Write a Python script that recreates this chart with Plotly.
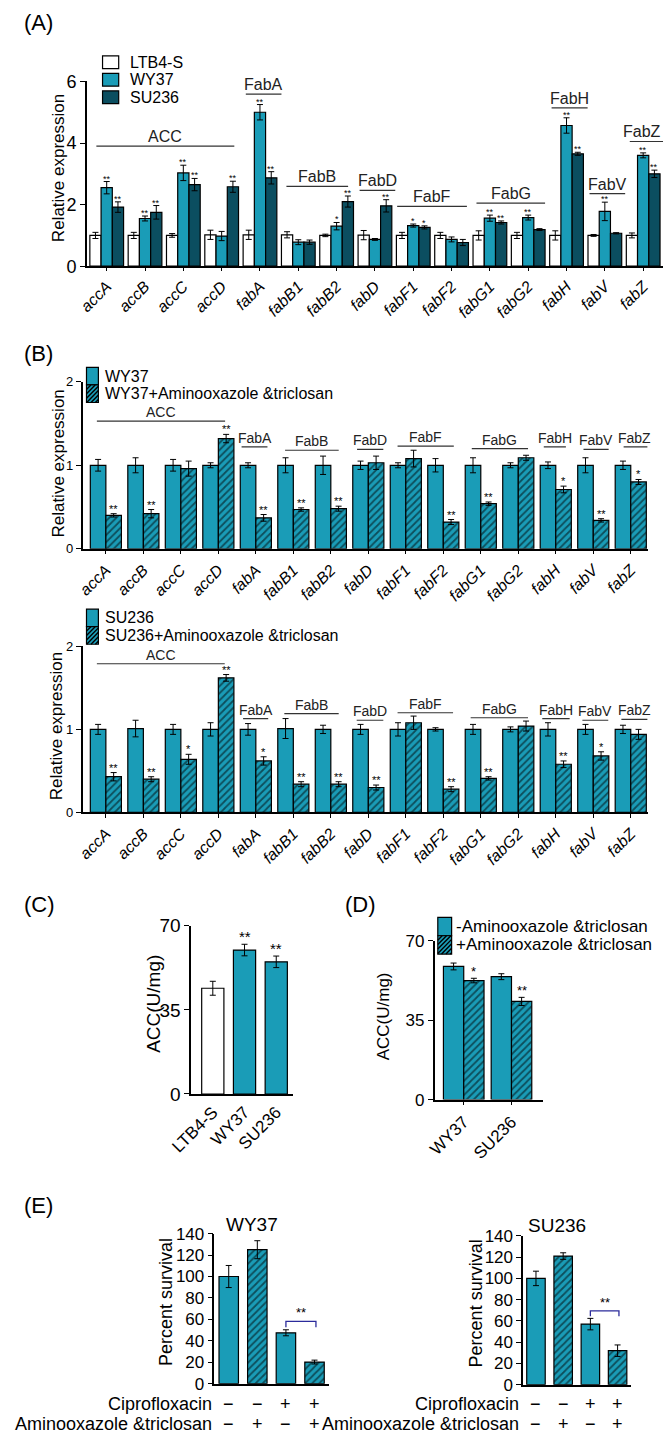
import plotly.graph_objects as go

W, H = 666, 1443
FONT = "Liberation Sans Narrow, Liberation Sans, Arial"
WHITE = "white"
TEAL = "#1a9cb7"
DARK = "#0b4e60"

genes = ["accA", "accB", "accC", "accD", "fabA", "fabB1", "fabB2", "fabD",
         "fabF1", "fabF2", "fabG1", "fabG2", "fabH", "fabV", "fabZ"]

# (A) relative expression of the three strains
a_names = ["LTB4-S", "WY37", "SU236"]
a_ltb4 = [1.0, 1.0, 1.0, 1.02, 1.02, 1.02, 1.0, 1.01, 1.0, 1.0, 1.0, 1.0, 1.0, 1.0, 1.0]
a_ltb4_err = [0.1, 0.1, 0.06, 0.15, 0.15, 0.1, 0.04, 0.15, 0.1, 0.1, 0.15, 0.1, 0.15, 0.03, 0.08]
a_wy37 = [2.55, 1.55, 3.03, 0.98, 5.0, 0.78, 1.3, 0.87, 1.32, 0.87, 1.56, 1.58, 4.57, 1.78, 3.6]
a_wy37_err = [0.2, 0.08, 0.25, 0.15, 0.25, 0.08, 0.12, 0.03, 0.05, 0.08, 0.1, 0.08, 0.25, 0.3, 0.08]
a_su236 = [1.92, 1.75, 2.65, 2.58, 2.87, 0.78, 2.1, 1.96, 1.26, 0.77, 1.42, 1.19, 3.65, 1.07, 3.0]
a_su236_err = [0.17, 0.22, 0.2, 0.18, 0.2, 0.07, 0.18, 0.2, 0.05, 0.1, 0.05, 0.03, 0.05, 0.02, 0.12]
a_wy37_sig = ["**", "**", "**", "", "**", "", "*", "", "*", "", "**", "**", "**", "**", "**"]
a_su236_sig = ["**", "**", "**", "**", "**", "", "**", "**", "*", "", "**", "", "**", "", "**"]

# (B) WY37 with / without aminooxazole & triclosan
b1_names = ["WY37", "WY37+Aminooxazole &triclosan"]
b1_ctrl = [1.0] * 15
b1_ctrl_err = [0.07, 0.09, 0.07, 0.03, 0.03, 0.09, 0.11, 0.05, 0.03, 0.08, 0.09, 0.03, 0.04, 0.09, 0.05]
b1_trt = [0.40, 0.42, 0.96, 1.32, 0.37, 0.47, 0.48, 1.03, 1.08, 0.32, 0.54, 1.09, 0.71, 0.34, 0.80]
b1_trt_err = [0.02, 0.05, 0.09, 0.05, 0.04, 0.02, 0.03, 0.08, 0.1, 0.03, 0.02, 0.03, 0.04, 0.02, 0.03]
b1_sig = ["**", "**", "", "**", "**", "**", "**", "", "", "**", "**", "", "*", "**", "*"]

# (B) SU236 with / without aminooxazole & triclosan
b2_names = ["SU236", "SU236+Aminooxazole &triclosan"]
b2_ctrl = [1.0, 1.01, 1.0, 1.0, 1.0, 1.01, 1.0, 1.0, 1.0, 1.0, 1.0, 1.0, 1.0, 1.0, 1.0]
b2_ctrl_err = [0.06, 0.1, 0.06, 0.08, 0.07, 0.12, 0.05, 0.06, 0.08, 0.02, 0.06, 0.03, 0.08, 0.06, 0.05]
b2_trt = [0.43, 0.40, 0.64, 1.62, 0.62, 0.34, 0.34, 0.30, 1.08, 0.28, 0.41, 1.04, 0.58, 0.68, 0.94]
b2_trt_err = [0.05, 0.03, 0.06, 0.04, 0.05, 0.03, 0.03, 0.03, 0.08, 0.03, 0.02, 0.06, 0.04, 0.05, 0.06]
b2_sig = ["**", "**", "*", "**", "*", "**", "**", "**", "", "**", "**", "", "**", "*", ""]

# (C) ACC activity
c_strains = ["LTB4-S", "WY37", "SU236"]
c_acc = [44.0, 59.9, 55.0]
c_acc_err = [2.9, 2.4, 2.4]
c_sig = ["", "**", "**"]

# (D) ACC activity with / without drugs
d_names = ["-Aminooxazole &triclosan", "+Aminooxazole &triclosan"]
d_strains = ["WY37", "SU236"]
d_minus = [58.6, 54.1]
d_minus_err = [1.5, 1.3]
d_plus = [52.4, 43.2]
d_plus_err = [1.0, 1.8]
d_sig = ["*", "**"]

# (E) percent survival
e_cipro = ["−", "−", "+", "+"]
e_amino = ["−", "+", "−", "+"]
e_wy37 = [100, 125, 47.5, 20.2]
e_wy37_err = [10.3, 8.4, 2.8, 1.8]
e_su236 = [100, 121, 57, 32]
e_su236_err = [6.8, 3.1, 5.4, 5.4]

# bracket groups: (label, x0, x1, y) in axis units
a_groups = [("ACC", -0.27, 3.33, 3.9), ("FabA", 3.63, 4.56, 5.59), ("FabB", 4.69, 6.3, 2.59),
            ("FabD", 6.6, 7.53, 2.46), ("FabF", 7.58, 9.4, 1.94), ("FabG", 9.65, 11.44, 2.05),
            ("FabH", 11.61, 12.55, 5.14), ("FabV", 12.6, 13.53, 2.36), ("FabZ", 13.65, 14.52, 4.05)]
b1_groups = [("ACC", -0.24, 3.18, 1.53), ("FabA", 3.62, 4.31, 1.22), ("FabB", 4.78, 6.21, 1.18),
             ("FabD", 6.7, 7.4, 1.19), ("FabF", 7.78, 9.28, 1.23), ("FabG", 9.76, 11.26, 1.2),
             ("FabH", 11.68, 12.27, 1.22), ("FabV", 12.74, 13.41, 1.19), ("FabZ", 13.81, 14.45, 1.22)]
b2_groups = [("ACC", -0.24, 3.17, 1.79), ("FabA", 3.66, 4.33, 1.13), ("FabB", 4.76, 6.21, 1.19),
             ("FabD", 6.69, 7.4, 1.11), ("FabF", 7.78, 9.26, 1.2), ("FabG", 9.73, 11.26, 1.14),
             ("FabH", 11.64, 12.37, 1.13), ("FabV", 12.71, 13.4, 1.11), ("FabZ", 13.75, 14.45, 1.12)]


def px(x):
    return x / W


def py(y):
    return 1 - y / H


def axis(**kw):
    base = dict(showline=True, linecolor="black", linewidth=1.5, ticks="outside", ticklen=5,
                tickcolor="black", tickwidth=1.2, showgrid=False, zeroline=False,
                tickfont=dict(size=16, color="black"), fixedrange=True)
    base.update(kw)
    return base


def solid(color):
    return dict(color=color, line=dict(color="black", width=1.2))


def hatched(color):
    return dict(color=color, line=dict(color="black", width=1.2),
                pattern=dict(shape="/", fgcolor="black", bgcolor=color, size=5, solidity=0.35))


def err(vals):
    return dict(type="data", array=vals, color="black", thickness=1, width=3)


fig = go.Figure()
idx = list(range(15))

# ---- (A)
aw = 0.293
for name, vals, errs, col, off in [(a_names[0], a_ltb4, a_ltb4_err, WHITE, -0.44),
                                    (a_names[1], a_wy37, a_wy37_err, TEAL, -0.147),
                                    (a_names[2], a_su236, a_su236_err, DARK, 0.147)]:
    fig.add_trace(go.Bar(x=idx, y=vals, width=aw, offset=off, marker=solid(col), error_y=err(errs),
                         name=name, xaxis="x", yaxis="y"))

# ---- (B) top and bottom
bw = 0.415
for vals, errs, name, xa, ya, mk, off in [
        (b1_ctrl, b1_ctrl_err, b1_names[0], "x2", "y2", solid(TEAL), -bw),
        (b1_trt, b1_trt_err, b1_names[1], "x2", "y2", hatched(TEAL), 0),
        (b2_ctrl, b2_ctrl_err, b2_names[0], "x3", "y3", solid(TEAL), -bw),
        (b2_trt, b2_trt_err, b2_names[1], "x3", "y3", hatched(TEAL), 0)]:
    fig.add_trace(go.Bar(x=idx, y=vals, width=bw, offset=off, marker=mk, error_y=err(errs),
                         name=name, xaxis=xa, yaxis=ya))

# ---- (C)
fig.add_trace(go.Bar(x=[0, 1, 2], y=c_acc, width=0.7, offset=-0.35,
                     marker=dict(color=[WHITE, TEAL, TEAL], line=dict(color="black", width=1.2)),
                     error_y=err(c_acc_err), xaxis="x4", yaxis="y4"))

# ---- (D)
dw = 0.425
fig.add_trace(go.Bar(x=[0, 1], y=d_minus, width=dw, offset=-dw, marker=solid(TEAL),
                     error_y=err(d_minus_err), name=d_names[0], xaxis="x5", yaxis="y5"))
fig.add_trace(go.Bar(x=[0, 1], y=d_plus, width=dw, offset=0, marker=hatched(TEAL),
                     error_y=err(d_plus_err), name=d_names[1], xaxis="x5", yaxis="y5"))

# ---- (E)
e_marker = dict(color=TEAL, line=dict(color="black", width=1.2),
                pattern=dict(shape=["", "/", "", "/"], fgcolor="black", bgcolor=TEAL,
                             size=5, solidity=0.35))
for vals, errs, xa, ya in [(e_wy37, e_wy37_err, "x6", "y6"), (e_su236, e_su236_err, "x7", "y7")]:
    fig.add_trace(go.Bar(x=[0, 1, 2, 3], y=vals, width=0.68, offset=-0.34, marker=e_marker,
                         error_y=err(errs), xaxis=xa, yaxis=ya))

ann = []
shapes = []


def star(xa, ya, x, top, text, size, shift=-3):
    if text:
        ann.append(dict(x=x, y=top, xref=xa, yref=ya, text=text, showarrow=False, yanchor="bottom",
                        yshift=shift, font=dict(size=size, color="black")))


for i in idx:
    star("x", "y", i, a_wy37[i] + a_wy37_err[i], a_wy37_sig[i], 9, -4)
    star("x", "y", i + 0.293, a_su236[i] + a_su236_err[i], a_su236_sig[i], 9, -4)
    star("x2", "y2", i + bw / 2, b1_trt[i] + b1_trt_err[i], b1_sig[i], 11)
    star("x3", "y3", i + bw / 2, b2_trt[i] + b2_trt_err[i], b2_sig[i], 11)
for i in range(3):
    star("x4", "y4", i, c_acc[i] + c_acc_err[i], c_sig[i], 15)
for i in range(2):
    star("x5", "y5", i + dw / 2, d_plus[i] + d_plus_err[i], d_sig[i], 13)


def brackets(groups, xa, ya, size, xmax):
    for label, x0, x1, y in groups:
        shapes.append(dict(type="line", xref=xa, yref=ya, x0=x0, x1=x1, y0=y, y1=y,
                           line=dict(color="#333333", width=1.2)))
        ann.append(dict(x=min((x0 + x1) / 2, xmax), y=y, xref=xa, yref=ya, text=label,
                        showarrow=False, yanchor="bottom", yshift=-1,
                        font=dict(size=size, color="#222222")))


brackets(a_groups, "x", "y", 16, 13.98)
brackets(b1_groups, "x2", "y2", 14, 14.1)
brackets(b2_groups, "x3", "y3", 14, 14.1)

# significance brackets in (E)
for xa, ya, x0, x1, ylo, yhi in [("x6", "y6", 2.0, 3.05, 52.7, 58.2), ("x7", "y7", 2.0, 3.05, 64.3, 69.5)]:
    shapes.append(dict(type="path", xref=xa, yref=ya,
                       path=f"M{x0},{ylo} L{x0},{yhi} L{x1},{yhi} L{x1},{ylo}",
                       line=dict(color="#2b2b9b", width=1.3)))
    ann.append(dict(x=(x0 + x1) / 2, y=yhi, xref=xa, yref=ya, text="**", showarrow=False,
                    yanchor="bottom", yshift=-1, font=dict(size=13, color="black")))

# +/- rows under (E)
for xa, lx in [("x6", 199), ("x7", 516)]:
    for row, ypx, label in [(e_cipro, 1415, "Ciprofloxacin"), (e_amino, 1435, "Aminooxazole &triclosan")]:
        ann.append(dict(x=px(lx), y=py(ypx), xref="paper", yref="paper", text=label, showarrow=False,
                        xanchor="right", yanchor="middle", font=dict(size=18, color="black")))
        for i, s in enumerate(row):
            ann.append(dict(x=i, y=py(ypx), xref=xa, yref="paper", text=s, showarrow=False,
                            yanchor="middle", font=dict(size=18, color="black")))


def text(xp, yp, t, size, angle=0, anchor="center"):
    ann.append(dict(x=px(xp), y=py(yp), xref="paper", yref="paper", text=t, showarrow=False,
                    textangle=angle, xanchor=anchor, yanchor="middle",
                    font=dict(size=size, color="black")))


def legend_item(x0, y0, x1, y1, color, hatch, label, size, tx):
    shapes.append(dict(type="rect", xref="paper", yref="paper", x0=px(x0), x1=px(x1),
                       y0=py(y1), y1=py(y0), fillcolor=color, line=dict(color="black", width=1.2)))
    if hatch:
        segs = []
        c = x0 + y0 + 4.5
        while c < x1 + y1:
            xa, xb = max(x0, c - y1), min(x1, c - y0)
            segs.append(f"M{px(xa)},{py(c - xa)} L{px(xb)},{py(c - xb)}")
            c += 4.5
        shapes.append(dict(type="path", xref="paper", yref="paper", path=" ".join(segs),
                           line=dict(color="black", width=1.4)))
    text(tx, (y0 + y1) / 2, label, size, anchor="left")


# legends drawn by hand
for k, (name, col) in enumerate(zip(a_names, [WHITE, TEAL, DARK])):
    legend_item(83.3, 46.5 + 17.8 * k, 100, 59.5 + 17.8 * k, col, False, name, 16, 110)
for y0, names in [(362.7, b1_names), (608, b2_names)]:
    for k, name in enumerate(names):
        legend_item(66.7, y0 + 17.8 * k, 79, y0 + 17.8 * (k + 1), TEAL, k == 1, name, 16, 84)
for k, name in enumerate(d_names):
    legend_item(430, 920.7 + 18.7 * k, 444.3, 939.3 + 18.7 * k, TEAL, k == 1, name, 17, 447)

# panel letters
text(0, 13, "(A)", 22, anchor="left")
text(0, 349, "(B)", 22, anchor="left")
text(0, 908, "(C)", 22, anchor="left")
text(332, 908, "(D)", 22, anchor="left")
text(0, 1213, "(E)", 22, anchor="left")

# axis titles
text(37.7, 160, "Relative expression", 17, -90)
text(37.5, 460, "Relative expression", 17, -90)
text(36, 727, "Relative expression", 17, -90)
text(136, 1009, "ACC(U/mg)", 19, -90)
text(373.5, 1021, "ACC(U/mg)", 17, -90)
text(149, 1311, "Percent survival", 18, -90)
text(469, 1313, "Percent survival", 18, -90)
text(237.7, 1232, "WY37", 19)
text(553.3, 1233, "SU236", 19)

gene_ticks = [f"<i>{g}</i>" for g in genes]

fig.update_layout(
    width=W, height=H, margin=dict(l=0, r=0, t=0, b=0),
    paper_bgcolor="white", plot_bgcolor="white", barmode="overlay", showlegend=False,
    font=dict(family=FONT, color="black"),
    xaxis=axis(domain=[px(67), px(663)], range=[-0.52, 14.52], anchor="y", tickvals=idx,
               ticktext=gene_ticks, tickangle=-45, ticklen=3),
    yaxis=axis(domain=[py(260), py(72.5)], range=[0, 6], anchor="x", tickvals=[0, 2, 4, 6],
               tickfont=dict(size=18, color="black")),
    xaxis2=axis(domain=[px(62.7), px(647)], range=[-0.62, 14.45], anchor="y2", tickvals=idx,
                ticktext=gene_ticks, tickangle=-45, ticklen=4),
    yaxis2=axis(domain=[py(546.7), py(377.3)], range=[0, 2], anchor="x2", tickvals=[0, 1, 2],
                tickfont=dict(size=13, color="black")),
    xaxis3=axis(domain=[px(62.7), px(647)], range=[-0.62, 14.45], anchor="y3", tickvals=idx,
                ticktext=gene_ticks, tickangle=-45, ticklen=4),
    yaxis3=axis(domain=[py(814.3), py(645.7)], range=[0, 2], anchor="x3", tickvals=[0, 1, 2],
                tickfont=dict(size=13, color="black")),
    xaxis4=axis(domain=[px(175), px(280)], range=[-0.68, 2.52], anchor="y4", tickvals=[0, 1, 2],
                ticktext=c_strains, tickangle=-45, ticks="", tickfont=dict(size=17, color="black")),
    yaxis4=axis(domain=[py(1100), py(929.3)], range=[0, 70], anchor="x4", tickvals=[0, 35, 70],
                tickfont=dict(size=19, color="black")),
    xaxis5=axis(domain=[px(426.7), px(538.3)], range=[-0.61, 1.65], anchor="y5", tickvals=[0, 1],
                ticktext=d_strains, tickangle=-45, ticklen=4, tickfont=dict(size=17, color="black")),
    yaxis5=axis(domain=[py(1105.7), py(944.3)], range=[0, 70], anchor="x5", tickvals=[0, 35, 70],
                tickfont=dict(size=17, color="black")),
    xaxis6=axis(domain=[px(199), px(317.3)], range=[-0.5, 3.5], anchor="y6", showticklabels=False,
                ticks=""),
    yaxis6=axis(domain=[py(1394), py(1241.7)], range=[0, 140], anchor="x6", dtick=20,
                tickfont=dict(size=17, color="black")),
    xaxis7=axis(domain=[px(518.3), px(630)], range=[-0.47, 3.5], anchor="y7", showticklabels=False,
                ticks=""),
    yaxis7=axis(domain=[py(1395), py(1244)], range=[0, 140], anchor="x7", dtick=20,
                tickfont=dict(size=17, color="black")),
    annotations=ann,
    shapes=shapes,
)

fig.write_html("out.html", config={"displayModeBar": False},
               post_script="document.body.style.margin = '0px';")
